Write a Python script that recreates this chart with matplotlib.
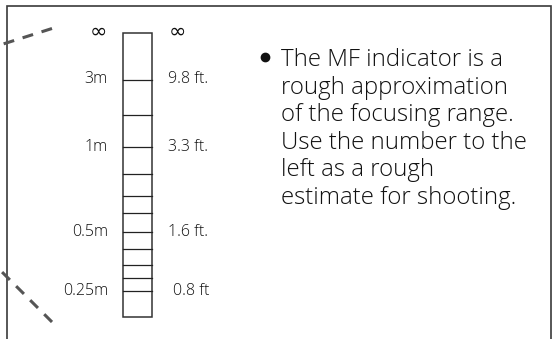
import matplotlib
matplotlib.use("Agg")
import matplotlib.pyplot as plt
from matplotlib.patches import Rectangle

plt.rcParams['font.family'] = ['Open Sans', 'DejaVu Sans']
plt.rcParams['font.weight'] = 'light'

# MF indicator scale (pixel rows on the page, top = 0)
scale_top = 33
scale_bottom = 317
tick_rows = [80, 115, 147, 174, 196, 213, 232, 249, 265, 278, 291]

label_rows = [33, 79, 147, 232, 291]
metric_labels = ["\u221e", "3m", "1m", "0.5m", "0.25m"]
feet_labels = ["\u221e", "9.8 ft.", "3.3 ft.", "1.6 ft.", "0.8 ft"]

note_lines = [
    "The MF indicator is a",
    "rough approximation",
    "of the focusing range.",
    "Use the number to the",
    "left as a rough",
    "estimate for shooting.",
]

W, H = 552, 339
fig = plt.figure(figsize=(W / 100, H / 100), dpi=100)
ax = fig.add_axes([0, 0, 1, 1])
ax.set_xlim(0, W)
ax.set_ylim(H, 0)
ax.axis('off')

# frame around the panel (open at the bottom)
ax.plot([7, 7, 550.5, 550.5], [H + 2, 5.5, 5.5, H + 2], color='#3a3a3a', lw=1.2,
        solid_joinstyle='miter')

# dashed leader lines coming from the left
ax.plot([52, 0], [28.5, 45], color='#555555', lw=2.2, dashes=(3.6, 2.9))
ax.plot([52, 0], [322, 270], color='#555555', lw=2.2, dashes=(3.6, 2.9))

# the scale bar
ax.add_patch(Rectangle((122.5, scale_top), 29, scale_bottom - scale_top,
                       fill=False, ec='#333333', lw=1.1))
for r in tick_rows:
    ax.plot([122.5, 151.5], [r, r], color='#222222', lw=0.9)

for r, lab in zip(label_rows, metric_labels):
    if lab == "\u221e":
        ax.text(98, r - 1, lab, ha='center', va='center', fontsize=15,
                family='DejaVu Sans', fontweight='normal', color='#111111')
    else:
        ax.text(108, r, lab, ha='right', va='center', fontsize=11.5,
                color='#111111')
for r, lab in zip(label_rows, feet_labels):
    if lab == "\u221e":
        ax.text(177, r - 1, lab, ha='center', va='center', fontsize=15,
                family='DejaVu Sans', fontweight='normal', color='#111111')
    else:
        x = 173 if lab == "0.8 ft" else 168
        ax.text(x, r, lab, ha='left', va='center', fontsize=11.5,
                color='#111111')

# bullet note
ax.plot([265], [57], 'o', ms=6, color='#111111')
for i, line in enumerate(note_lines):
    ax.text(281, 60 + i * 27.6, line, ha='left', va='center', fontsize=17.3,
            color='#111111')

fig.savefig("out.png", dpi=100)
